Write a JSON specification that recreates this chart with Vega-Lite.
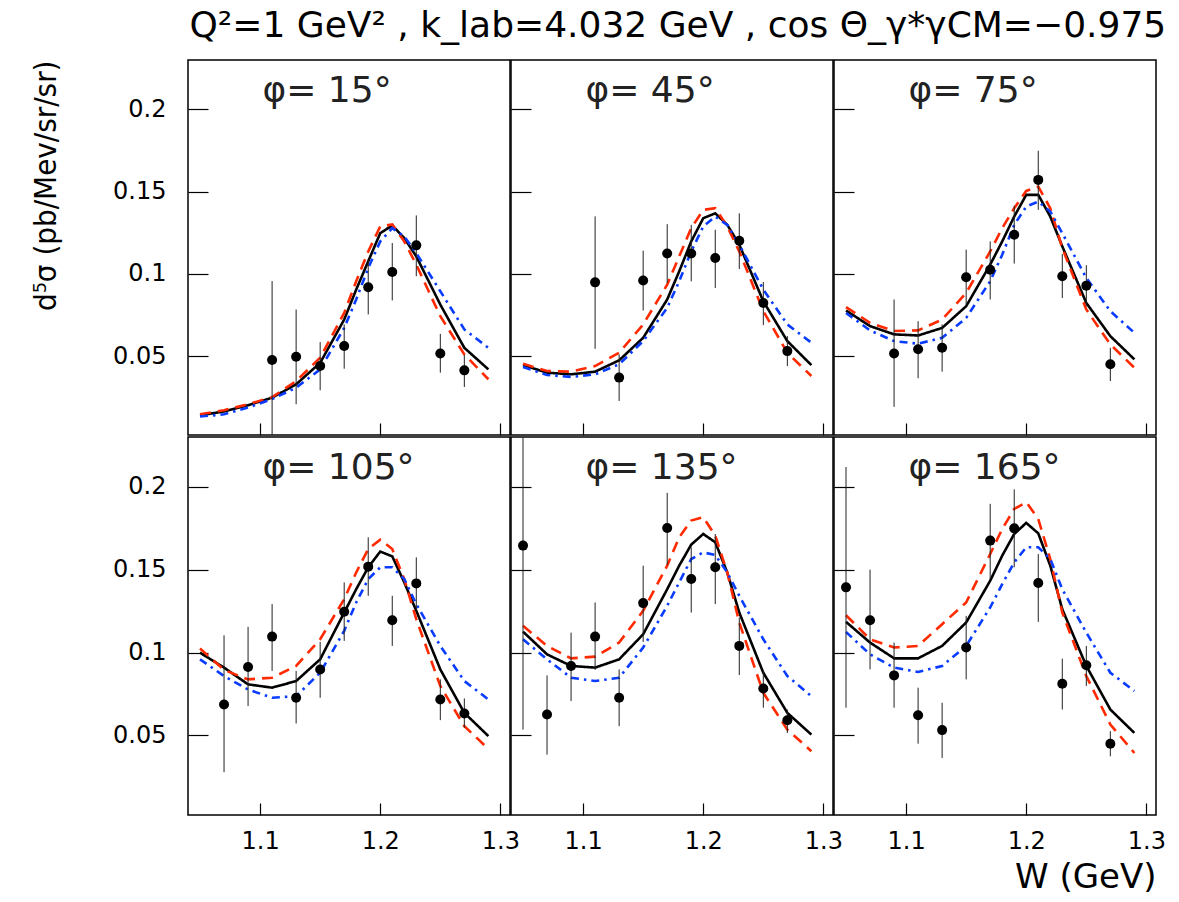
{
"$schema": "https://vega.github.io/schema/vega-lite/v6.json",
"padding": {"left": 29, "top": 8, "right": 0, "bottom": 4},
"background": "white",
"bounds": "flush",
"title": {"text": "Q²=1 GeV² , k_lab=4.032 GeV , cos Θ_γ*γCM=−0.975", "anchor": "end", "fontSize": 36, "font": "DejaVu Sans", "fontWeight": "normal", "color": "black", "offset": 14},
"datasets": {
"curves": [
{"phi":15,"W":1.05,"black":0.0140,"red":0.0146,"blue":0.0132},
{"phi":15,"W":1.07,"black":0.0163,"red":0.0171,"blue":0.0146},
{"phi":15,"W":1.09,"black":0.0201,"red":0.0207,"blue":0.0187},
{"phi":15,"W":1.11,"black":0.0247,"red":0.0250,"blue":0.0238},
{"phi":15,"W":1.13,"black":0.0328,"red":0.0348,"blue":0.0308},
{"phi":15,"W":1.15,"black":0.0459,"red":0.0490,"blue":0.0419},
{"phi":15,"W":1.17,"black":0.0722,"red":0.0762,"blue":0.0671},
{"phi":15,"W":1.18,"black":0.0904,"red":0.0955,"blue":0.0844},
{"phi":15,"W":1.19,"black":0.1076,"red":0.1136,"blue":0.1035},
{"phi":15,"W":1.20,"black":0.1247,"red":0.1288,"blue":0.1197},
{"phi":15,"W":1.21,"black":0.1294,"red":0.1300,"blue":0.1278},
{"phi":15,"W":1.22,"black":0.1217,"red":0.1197,"blue":0.1227},
{"phi":15,"W":1.23,"black":0.1106,"red":0.1056,"blue":0.1126},
{"phi":15,"W":1.25,"black":0.0813,"red":0.0742,"blue":0.0894},
{"phi":15,"W":1.27,"black":0.0550,"red":0.0510,"blue":0.0662},
{"phi":15,"W":1.29,"black":0.0419,"red":0.0359,"blue":0.0550},
{"phi":45,"W":1.05,"black":0.0445,"red":0.0453,"blue":0.0433},
{"phi":45,"W":1.07,"black":0.0399,"red":0.0409,"blue":0.0385},
{"phi":45,"W":1.09,"black":0.0389,"red":0.0405,"blue":0.0373},
{"phi":45,"W":1.11,"black":0.0405,"red":0.0439,"blue":0.0389},
{"phi":45,"W":1.13,"black":0.0474,"red":0.0520,"blue":0.0450},
{"phi":45,"W":1.15,"black":0.0611,"red":0.0692,"blue":0.0591},
{"phi":45,"W":1.17,"black":0.0844,"red":0.0934,"blue":0.0793},
{"phi":45,"W":1.18,"black":0.1015,"red":0.1106,"blue":0.0955},
{"phi":45,"W":1.19,"black":0.1197,"red":0.1278,"blue":0.1136},
{"phi":45,"W":1.20,"black":0.1338,"red":0.1389,"blue":0.1288},
{"phi":45,"W":1.21,"black":0.1368,"red":0.1399,"blue":0.1348},
{"phi":45,"W":1.22,"black":0.1298,"red":0.1288,"blue":0.1298},
{"phi":45,"W":1.23,"black":0.1177,"red":0.1136,"blue":0.1177},
{"phi":45,"W":1.25,"black":0.0833,"red":0.0773,"blue":0.0904},
{"phi":45,"W":1.27,"black":0.0591,"red":0.0520,"blue":0.0692},
{"phi":45,"W":1.29,"black":0.0445,"red":0.0379,"blue":0.0581},
{"phi":75,"W":1.05,"black":0.0777,"red":0.0797,"blue":0.0762},
{"phi":75,"W":1.07,"black":0.0682,"red":0.0702,"blue":0.0656},
{"phi":75,"W":1.09,"black":0.0632,"red":0.0652,"blue":0.0591},
{"phi":75,"W":1.11,"black":0.0625,"red":0.0656,"blue":0.0575},
{"phi":75,"W":1.13,"black":0.0671,"red":0.0722,"blue":0.0611},
{"phi":75,"W":1.15,"black":0.0803,"red":0.0884,"blue":0.0732},
{"phi":75,"W":1.17,"black":0.1056,"red":0.1136,"blue":0.0955},
{"phi":75,"W":1.18,"black":0.1197,"red":0.1278,"blue":0.1116},
{"phi":75,"W":1.19,"black":0.1348,"red":0.1399,"blue":0.1298},
{"phi":75,"W":1.20,"black":0.1480,"red":0.1504,"blue":0.1409},
{"phi":75,"W":1.21,"black":0.1480,"red":0.1530,"blue":0.1439},
{"phi":75,"W":1.22,"black":0.1348,"red":0.1399,"blue":0.1379},
{"phi":75,"W":1.23,"black":0.1167,"red":0.1157,"blue":0.1247},
{"phi":75,"W":1.25,"black":0.0823,"red":0.0783,"blue":0.0975},
{"phi":75,"W":1.27,"black":0.0621,"red":0.0571,"blue":0.0773},
{"phi":75,"W":1.29,"black":0.0480,"red":0.0429,"blue":0.0641},
{"phi":105,"W":1.05,"black":0.0999,"red":0.1024,"blue":0.0959},
{"phi":105,"W":1.07,"black":0.0909,"red":0.0895,"blue":0.0858},
{"phi":105,"W":1.09,"black":0.0808,"red":0.0838,"blue":0.0777},
{"phi":105,"W":1.11,"black":0.0788,"red":0.0848,"blue":0.0727},
{"phi":105,"W":1.13,"black":0.0828,"red":0.0919,"blue":0.0737},
{"phi":105,"W":1.15,"black":0.0959,"red":0.1080,"blue":0.0878},
{"phi":105,"W":1.17,"black":0.1241,"red":0.1322,"blue":0.1131},
{"phi":105,"W":1.18,"black":0.1382,"red":0.1483,"blue":0.1302},
{"phi":105,"W":1.19,"black":0.1514,"red":0.1624,"blue":0.1443},
{"phi":105,"W":1.20,"black":0.1609,"red":0.1681,"blue":0.1514},
{"phi":105,"W":1.21,"black":0.1580,"red":0.1624,"blue":0.1514},
{"phi":105,"W":1.22,"black":0.1423,"red":0.1443,"blue":0.1443},
{"phi":105,"W":1.23,"black":0.1252,"red":0.1201,"blue":0.1292},
{"phi":105,"W":1.25,"black":0.0898,"red":0.0798,"blue":0.1040},
{"phi":105,"W":1.27,"black":0.0636,"red":0.0556,"blue":0.0828},
{"phi":105,"W":1.29,"black":0.0496,"red":0.0419,"blue":0.0717},
{"phi":135,"W":1.05,"black":0.1126,"red":0.1161,"blue":0.1080},
{"phi":135,"W":1.07,"black":0.0989,"red":0.1040,"blue":0.0959},
{"phi":135,"W":1.09,"black":0.0919,"red":0.0965,"blue":0.0848},
{"phi":135,"W":1.11,"black":0.0909,"red":0.0975,"blue":0.0828},
{"phi":135,"W":1.13,"black":0.0959,"red":0.1060,"blue":0.0848},
{"phi":135,"W":1.15,"black":0.1110,"red":0.1252,"blue":0.1030},
{"phi":135,"W":1.17,"black":0.1382,"red":0.1524,"blue":0.1282},
{"phi":135,"W":1.18,"black":0.1524,"red":0.1695,"blue":0.1423},
{"phi":135,"W":1.19,"black":0.1651,"red":0.1796,"blue":0.1564},
{"phi":135,"W":1.20,"black":0.1715,"red":0.1816,"blue":0.1604},
{"phi":135,"W":1.21,"black":0.1665,"red":0.1705,"blue":0.1588},
{"phi":135,"W":1.22,"black":0.1483,"red":0.1483,"blue":0.1483},
{"phi":135,"W":1.23,"black":0.1241,"red":0.1181,"blue":0.1342},
{"phi":135,"W":1.25,"black":0.0878,"red":0.0757,"blue":0.1080},
{"phi":135,"W":1.27,"black":0.0636,"red":0.0535,"blue":0.0858},
{"phi":135,"W":1.29,"black":0.0505,"red":0.0405,"blue":0.0737},
{"phi":165,"W":1.05,"black":0.1185,"red":0.1225,"blue":0.1124},
{"phi":165,"W":1.07,"black":0.1060,"red":0.1080,"blue":0.0989},
{"phi":165,"W":1.09,"black":0.0965,"red":0.1030,"blue":0.0909},
{"phi":165,"W":1.11,"black":0.0965,"red":0.1040,"blue":0.0883},
{"phi":165,"W":1.13,"black":0.1040,"red":0.1171,"blue":0.0919},
{"phi":165,"W":1.15,"black":0.1181,"red":0.1302,"blue":0.1040},
{"phi":165,"W":1.17,"black":0.1433,"red":0.1594,"blue":0.1272},
{"phi":165,"W":1.18,"black":0.1584,"red":0.1745,"blue":0.1412},
{"phi":165,"W":1.19,"black":0.1715,"red":0.1866,"blue":0.1544},
{"phi":165,"W":1.20,"black":0.1782,"red":0.1907,"blue":0.1635},
{"phi":165,"W":1.21,"black":0.1719,"red":0.1806,"blue":0.1635},
{"phi":165,"W":1.22,"black":0.1524,"red":0.1564,"blue":0.1564},
{"phi":165,"W":1.23,"black":0.1261,"red":0.1241,"blue":0.1382},
{"phi":165,"W":1.25,"black":0.0919,"red":0.0858,"blue":0.1120},
{"phi":165,"W":1.27,"black":0.0656,"red":0.0566,"blue":0.0878},
{"phi":165,"W":1.29,"black":0.0515,"red":0.0394,"blue":0.0768}
],
"pts": [
{"phi":15,"W":1.11,"v":0.0476,"lo":-0.0004,"hi":0.0956},
{"phi":15,"W":1.13,"v":0.0496,"lo":0.0207,"hi":0.0783},
{"phi":15,"W":1.15,"v":0.0439,"lo":0.0292,"hi":0.0585},
{"phi":15,"W":1.17,"v":0.0561,"lo":0.0423,"hi":0.0692},
{"phi":15,"W":1.19,"v":0.0918,"lo":0.0753,"hi":0.1086},
{"phi":15,"W":1.21,"v":0.1011,"lo":0.0838,"hi":0.1187},
{"phi":15,"W":1.23,"v":0.1173,"lo":0.0985,"hi":0.1355},
{"phi":15,"W":1.25,"v":0.0516,"lo":0.0399,"hi":0.0635},
{"phi":15,"W":1.27,"v":0.0413,"lo":0.0312,"hi":0.0506},
{"phi":45,"W":1.11,"v":0.0948,"lo":0.0544,"hi":0.1349},
{"phi":45,"W":1.13,"v":0.0369,"lo":0.0227,"hi":0.0510},
{"phi":45,"W":1.15,"v":0.0959,"lo":0.0777,"hi":0.1141},
{"phi":45,"W":1.17,"v":0.1124,"lo":0.0944,"hi":0.1302},
{"phi":45,"W":1.19,"v":0.1124,"lo":0.0954,"hi":0.1298},
{"phi":45,"W":1.21,"v":0.1096,"lo":0.0914,"hi":0.1268},
{"phi":45,"W":1.23,"v":0.1201,"lo":0.1029,"hi":0.1368},
{"phi":45,"W":1.25,"v":0.0823,"lo":0.0688,"hi":0.0950},
{"phi":45,"W":1.27,"v":0.0530,"lo":0.0439,"hi":0.0621},
{"phi":75,"W":1.09,"v":0.0516,"lo":0.0191,"hi":0.0844},
{"phi":75,"W":1.11,"v":0.0541,"lo":0.0365,"hi":0.0712},
{"phi":75,"W":1.13,"v":0.0550,"lo":0.0405,"hi":0.0692},
{"phi":75,"W":1.15,"v":0.0979,"lo":0.0813,"hi":0.1147},
{"phi":75,"W":1.17,"v":0.1025,"lo":0.0844,"hi":0.1197},
{"phi":75,"W":1.19,"v":0.1238,"lo":0.1062,"hi":0.1415},
{"phi":75,"W":1.21,"v":0.1571,"lo":0.1389,"hi":0.1748},
{"phi":75,"W":1.23,"v":0.0985,"lo":0.0853,"hi":0.1120},
{"phi":75,"W":1.25,"v":0.0928,"lo":0.0803,"hi":0.1052},
{"phi":75,"W":1.27,"v":0.0450,"lo":0.0348,"hi":0.0550},
{"phi":105,"W":1.07,"v":0.0687,"lo":0.0278,"hi":0.1104},
{"phi":105,"W":1.09,"v":0.0913,"lo":0.0677,"hi":0.1155},
{"phi":105,"W":1.11,"v":0.1096,"lo":0.0889,"hi":0.1292},
{"phi":105,"W":1.13,"v":0.0727,"lo":0.0572,"hi":0.0889},
{"phi":105,"W":1.15,"v":0.0898,"lo":0.0727,"hi":0.1064},
{"phi":105,"W":1.17,"v":0.1246,"lo":0.1070,"hi":0.1423},
{"phi":105,"W":1.19,"v":0.1518,"lo":0.1342,"hi":0.1695},
{"phi":105,"W":1.21,"v":0.1195,"lo":0.1040,"hi":0.1342},
{"phi":105,"W":1.23,"v":0.1417,"lo":0.1261,"hi":0.1574},
{"phi":105,"W":1.25,"v":0.0717,"lo":0.0592,"hi":0.0838},
{"phi":105,"W":1.27,"v":0.0632,"lo":0.0546,"hi":0.0723},
{"phi":135,"W":1.05,"v":0.1645,"lo":0.0535,"hi":0.2755},
{"phi":135,"W":1.07,"v":0.0626,"lo":0.0384,"hi":0.0862},
{"phi":135,"W":1.09,"v":0.0919,"lo":0.0707,"hi":0.1120},
{"phi":135,"W":1.11,"v":0.1096,"lo":0.0895,"hi":0.1302},
{"phi":135,"W":1.13,"v":0.0727,"lo":0.0556,"hi":0.0898},
{"phi":135,"W":1.15,"v":0.1298,"lo":0.1064,"hi":0.1524},
{"phi":135,"W":1.17,"v":0.1751,"lo":0.1528,"hi":0.1963},
{"phi":135,"W":1.19,"v":0.1443,"lo":0.1241,"hi":0.1635},
{"phi":135,"W":1.21,"v":0.1514,"lo":0.1292,"hi":0.1715},
{"phi":135,"W":1.23,"v":0.1040,"lo":0.0864,"hi":0.1211},
{"phi":135,"W":1.25,"v":0.0783,"lo":0.0667,"hi":0.0889},
{"phi":135,"W":1.27,"v":0.0592,"lo":0.0515,"hi":0.0656},
{"phi":165,"W":1.05,"v":0.1393,"lo":0.0667,"hi":0.2119},
{"phi":165,"W":1.07,"v":0.1195,"lo":0.0898,"hi":0.1500},
{"phi":165,"W":1.09,"v":0.0862,"lo":0.0667,"hi":0.1060},
{"phi":165,"W":1.11,"v":0.0622,"lo":0.0450,"hi":0.0788},
{"phi":165,"W":1.13,"v":0.0532,"lo":0.0364,"hi":0.0697},
{"phi":165,"W":1.15,"v":0.1030,"lo":0.0838,"hi":0.1221},
{"phi":165,"W":1.17,"v":0.1675,"lo":0.1443,"hi":0.1897},
{"phi":165,"W":1.19,"v":0.1749,"lo":0.1514,"hi":0.1984},
{"phi":165,"W":1.21,"v":0.1419,"lo":0.1185,"hi":0.1594},
{"phi":165,"W":1.23,"v":0.0812,"lo":0.0656,"hi":0.0963},
{"phi":165,"W":1.25,"v":0.0923,"lo":0.0798,"hi":0.1040},
{"phi":165,"W":1.27,"v":0.0450,"lo":0.0374,"hi":0.0526}
],
"labels": [
{"phi":15,"label":"φ= 15°"},
{"phi":45,"label":"φ= 45°"},
{"phi":75,"label":"φ= 75°"},
{"phi":105,"label":"φ= 105°"},
{"phi":135,"label":"φ= 135°"},
{"phi":165,"label":"φ= 165°"}
]
},
"columns": 3,
"spacing": {"row": 2, "column": 1},
"concat": [
{"width":322,"height":375,"layer":[
 {"data":{"name":"curves"},"transform":[{"filter":"datum.phi==15"},{"fold":["black","red","blue"],"as":["model","v"]}],
  "mark":{"type":"line","clip":true,"strokeWidth":2.6},
  "encoding":{
   "x":{"field":"W","type":"quantitative","scale":{"domain":[1.04,1.308],"nice":false,"zero":false},"axis":{"values":[1.1,1.2,1.3],"labels":false,"title":null,"tickSize":-12}},
   "y":{"field":"v","type":"quantitative","scale":{"domain":[0.002,0.23],"nice":false,"zero":false},"axis":{"values":[0.05,0.1,0.15,0.2],"format":"~g","title":"d⁵σ (pb/Mev/sr/sr)","titleAnchor":"end","titlePadding":50}},
   "color":{"field":"model","type":"nominal","scale":{"domain":["black","red","blue"],"range":["#000000","#ff2a00","#0a3cff"]},"legend":null},
   "strokeDash":{"field":"model","type":"nominal","scale":{"domain":["black","red","blue"],"range":[[1,0],[11,7],[8,5,2.5,5]]},"legend":null}}},
 {"data":{"name":"pts"},"transform":[{"filter":"datum.phi==15"}],"mark":{"type":"rule","clip":true,"color":"#222222","strokeWidth":1},
  "encoding":{"x":{"field":"W","type":"quantitative"},"y":{"field":"lo","type":"quantitative"},"y2":{"field":"hi"}}},
 {"data":{"name":"pts"},"transform":[{"filter":"datum.phi==15"}],"mark":{"type":"point","filled":true,"shape":"circle","size":100,"color":"black","opacity":1},
  "encoding":{"x":{"field":"W","type":"quantitative"},"y":{"field":"v","type":"quantitative"}}},
 {"data":{"name":"labels"},"transform":[{"filter":"datum.phi==15"}],"mark":{"type":"text","align":"left","baseline":"alphabetic","font":"DejaVu Sans","fontSize":36,"color":"#222222"},
  "encoding":{"x":{"datum":1.102,"type":"quantitative"},"y":{"datum":0.2045,"type":"quantitative"},"text":{"field":"label"}}}
]},
{"width":322,"height":375,"layer":[
 {"data":{"name":"curves"},"transform":[{"filter":"datum.phi==45"},{"fold":["black","red","blue"],"as":["model","v"]}],
  "mark":{"type":"line","clip":true,"strokeWidth":2.6},
  "encoding":{
   "x":{"field":"W","type":"quantitative","scale":{"domain":[1.04,1.308],"nice":false,"zero":false},"axis":{"values":[1.1,1.2,1.3],"labels":false,"title":null,"tickSize":-12}},
   "y":{"field":"v","type":"quantitative","scale":{"domain":[0.002,0.23],"nice":false,"zero":false},"axis":{"values":[0.05,0.1,0.15,0.2],"labels":false,"title":null}},
   "color":{"field":"model","type":"nominal","scale":{"domain":["black","red","blue"],"range":["#000000","#ff2a00","#0a3cff"]},"legend":null},
   "strokeDash":{"field":"model","type":"nominal","scale":{"domain":["black","red","blue"],"range":[[1,0],[11,7],[8,5,2.5,5]]},"legend":null}}},
 {"data":{"name":"pts"},"transform":[{"filter":"datum.phi==45"}],"mark":{"type":"rule","clip":true,"color":"#222222","strokeWidth":1},
  "encoding":{"x":{"field":"W","type":"quantitative"},"y":{"field":"lo","type":"quantitative"},"y2":{"field":"hi"}}},
 {"data":{"name":"pts"},"transform":[{"filter":"datum.phi==45"}],"mark":{"type":"point","filled":true,"shape":"circle","size":100,"color":"black","opacity":1},
  "encoding":{"x":{"field":"W","type":"quantitative"},"y":{"field":"v","type":"quantitative"}}},
 {"data":{"name":"labels"},"transform":[{"filter":"datum.phi==45"}],"mark":{"type":"text","align":"left","baseline":"alphabetic","font":"DejaVu Sans","fontSize":36,"color":"#222222"},
  "encoding":{"x":{"datum":1.102,"type":"quantitative"},"y":{"datum":0.2045,"type":"quantitative"},"text":{"field":"label"}}}
]},
{"width":322,"height":375,"layer":[
 {"data":{"name":"curves"},"transform":[{"filter":"datum.phi==75"},{"fold":["black","red","blue"],"as":["model","v"]}],
  "mark":{"type":"line","clip":true,"strokeWidth":2.6},
  "encoding":{
   "x":{"field":"W","type":"quantitative","scale":{"domain":[1.04,1.308],"nice":false,"zero":false},"axis":{"values":[1.1,1.2,1.3],"labels":false,"title":null,"tickSize":-12}},
   "y":{"field":"v","type":"quantitative","scale":{"domain":[0.002,0.23],"nice":false,"zero":false},"axis":{"values":[0.05,0.1,0.15,0.2],"labels":false,"title":null}},
   "color":{"field":"model","type":"nominal","scale":{"domain":["black","red","blue"],"range":["#000000","#ff2a00","#0a3cff"]},"legend":null},
   "strokeDash":{"field":"model","type":"nominal","scale":{"domain":["black","red","blue"],"range":[[1,0],[11,7],[8,5,2.5,5]]},"legend":null}}},
 {"data":{"name":"pts"},"transform":[{"filter":"datum.phi==75"}],"mark":{"type":"rule","clip":true,"color":"#222222","strokeWidth":1},
  "encoding":{"x":{"field":"W","type":"quantitative"},"y":{"field":"lo","type":"quantitative"},"y2":{"field":"hi"}}},
 {"data":{"name":"pts"},"transform":[{"filter":"datum.phi==75"}],"mark":{"type":"point","filled":true,"shape":"circle","size":100,"color":"black","opacity":1},
  "encoding":{"x":{"field":"W","type":"quantitative"},"y":{"field":"v","type":"quantitative"}}},
 {"data":{"name":"labels"},"transform":[{"filter":"datum.phi==75"}],"mark":{"type":"text","align":"left","baseline":"alphabetic","font":"DejaVu Sans","fontSize":36,"color":"#222222"},
  "encoding":{"x":{"datum":1.102,"type":"quantitative"},"y":{"datum":0.2045,"type":"quantitative"},"text":{"field":"label"}}}
]},
{"width":322,"height":378,"layer":[
 {"data":{"name":"curves"},"transform":[{"filter":"datum.phi==105"},{"fold":["black","red","blue"],"as":["model","v"]}],
  "mark":{"type":"line","clip":true,"strokeWidth":2.6},
  "encoding":{
   "x":{"field":"W","type":"quantitative","scale":{"domain":[1.04,1.308],"nice":false,"zero":false},"axis":{"values":[1.1,1.2,1.3],"format":"~g","title":null,"tickSize":-12}},
   "y":{"field":"v","type":"quantitative","scale":{"domain":[0.002,0.23],"nice":false,"zero":false},"axis":{"values":[0.05,0.1,0.15,0.2],"format":"~g","title":null}},
   "color":{"field":"model","type":"nominal","scale":{"domain":["black","red","blue"],"range":["#000000","#ff2a00","#0a3cff"]},"legend":null},
   "strokeDash":{"field":"model","type":"nominal","scale":{"domain":["black","red","blue"],"range":[[1,0],[11,7],[8,5,2.5,5]]},"legend":null}}},
 {"data":{"name":"pts"},"transform":[{"filter":"datum.phi==105"}],"mark":{"type":"rule","clip":true,"color":"#222222","strokeWidth":1},
  "encoding":{"x":{"field":"W","type":"quantitative"},"y":{"field":"lo","type":"quantitative"},"y2":{"field":"hi"}}},
 {"data":{"name":"pts"},"transform":[{"filter":"datum.phi==105"}],"mark":{"type":"point","filled":true,"shape":"circle","size":100,"color":"black","opacity":1},
  "encoding":{"x":{"field":"W","type":"quantitative"},"y":{"field":"v","type":"quantitative"}}},
 {"data":{"name":"labels"},"transform":[{"filter":"datum.phi==105"}],"mark":{"type":"text","align":"left","baseline":"alphabetic","font":"DejaVu Sans","fontSize":36,"color":"#222222"},
  "encoding":{"x":{"datum":1.102,"type":"quantitative"},"y":{"datum":0.2045,"type":"quantitative"},"text":{"field":"label"}}}
]},
{"width":322,"height":378,"layer":[
 {"data":{"name":"curves"},"transform":[{"filter":"datum.phi==135"},{"fold":["black","red","blue"],"as":["model","v"]}],
  "mark":{"type":"line","clip":true,"strokeWidth":2.6},
  "encoding":{
   "x":{"field":"W","type":"quantitative","scale":{"domain":[1.04,1.308],"nice":false,"zero":false},"axis":{"values":[1.1,1.2,1.3],"format":"~g","title":null,"tickSize":-12}},
   "y":{"field":"v","type":"quantitative","scale":{"domain":[0.002,0.23],"nice":false,"zero":false},"axis":{"values":[0.05,0.1,0.15,0.2],"labels":false,"title":null}},
   "color":{"field":"model","type":"nominal","scale":{"domain":["black","red","blue"],"range":["#000000","#ff2a00","#0a3cff"]},"legend":null},
   "strokeDash":{"field":"model","type":"nominal","scale":{"domain":["black","red","blue"],"range":[[1,0],[11,7],[8,5,2.5,5]]},"legend":null}}},
 {"data":{"name":"pts"},"transform":[{"filter":"datum.phi==135"}],"mark":{"type":"rule","clip":true,"color":"#222222","strokeWidth":1},
  "encoding":{"x":{"field":"W","type":"quantitative"},"y":{"field":"lo","type":"quantitative"},"y2":{"field":"hi"}}},
 {"data":{"name":"pts"},"transform":[{"filter":"datum.phi==135"}],"mark":{"type":"point","filled":true,"shape":"circle","size":100,"color":"black","opacity":1},
  "encoding":{"x":{"field":"W","type":"quantitative"},"y":{"field":"v","type":"quantitative"}}},
 {"data":{"name":"labels"},"transform":[{"filter":"datum.phi==135"}],"mark":{"type":"text","align":"left","baseline":"alphabetic","font":"DejaVu Sans","fontSize":36,"color":"#222222"},
  "encoding":{"x":{"datum":1.102,"type":"quantitative"},"y":{"datum":0.2045,"type":"quantitative"},"text":{"field":"label"}}}
]},
{"width":322,"height":378,"layer":[
 {"data":{"name":"curves"},"transform":[{"filter":"datum.phi==165"},{"fold":["black","red","blue"],"as":["model","v"]}],
  "mark":{"type":"line","clip":true,"strokeWidth":2.6},
  "encoding":{
   "x":{"field":"W","type":"quantitative","scale":{"domain":[1.04,1.308],"nice":false,"zero":false},"axis":{"values":[1.1,1.2,1.3],"format":"~g","title":"W (GeV)","titleAnchor":"end","titlePadding":7,"titleFontSize":34,"tickSize":-12}},
   "y":{"field":"v","type":"quantitative","scale":{"domain":[0.002,0.23],"nice":false,"zero":false},"axis":{"values":[0.05,0.1,0.15,0.2],"labels":false,"title":null}},
   "color":{"field":"model","type":"nominal","scale":{"domain":["black","red","blue"],"range":["#000000","#ff2a00","#0a3cff"]},"legend":null},
   "strokeDash":{"field":"model","type":"nominal","scale":{"domain":["black","red","blue"],"range":[[1,0],[11,7],[8,5,2.5,5]]},"legend":null}}},
 {"data":{"name":"pts"},"transform":[{"filter":"datum.phi==165"}],"mark":{"type":"rule","clip":true,"color":"#222222","strokeWidth":1},
  "encoding":{"x":{"field":"W","type":"quantitative"},"y":{"field":"lo","type":"quantitative"},"y2":{"field":"hi"}}},
 {"data":{"name":"pts"},"transform":[{"filter":"datum.phi==165"}],"mark":{"type":"point","filled":true,"shape":"circle","size":100,"color":"black","opacity":1},
  "encoding":{"x":{"field":"W","type":"quantitative"},"y":{"field":"v","type":"quantitative"}}},
 {"data":{"name":"labels"},"transform":[{"filter":"datum.phi==165"}],"mark":{"type":"text","align":"left","baseline":"alphabetic","font":"DejaVu Sans","fontSize":36,"color":"#222222"},
  "encoding":{"x":{"datum":1.102,"type":"quantitative"},"y":{"datum":0.2045,"type":"quantitative"},"text":{"field":"label"}}}
]}
],
"config": {
 "view": {"stroke": "black", "strokeWidth": 1.5},
 "axis": {"grid": false, "domain": false, "ticks": true, "tickColor": "black", "tickWidth": 1.2, "labelFont": "DejaVu Sans", "labelFontSize": 24, "labelColor": "black", "titleColor": "black", "titleFontWeight": "normal"},
 "axisX": {"tickSize": -12, "labelPadding": 26, "titleFont": "DejaVu Sans", "titleFontSize": 36},
 "axisY": {"tickSize": -20, "labelPadding": 42, "titleFont": "DejaVu Sans Condensed", "titleFontSize": 31}
}
}
